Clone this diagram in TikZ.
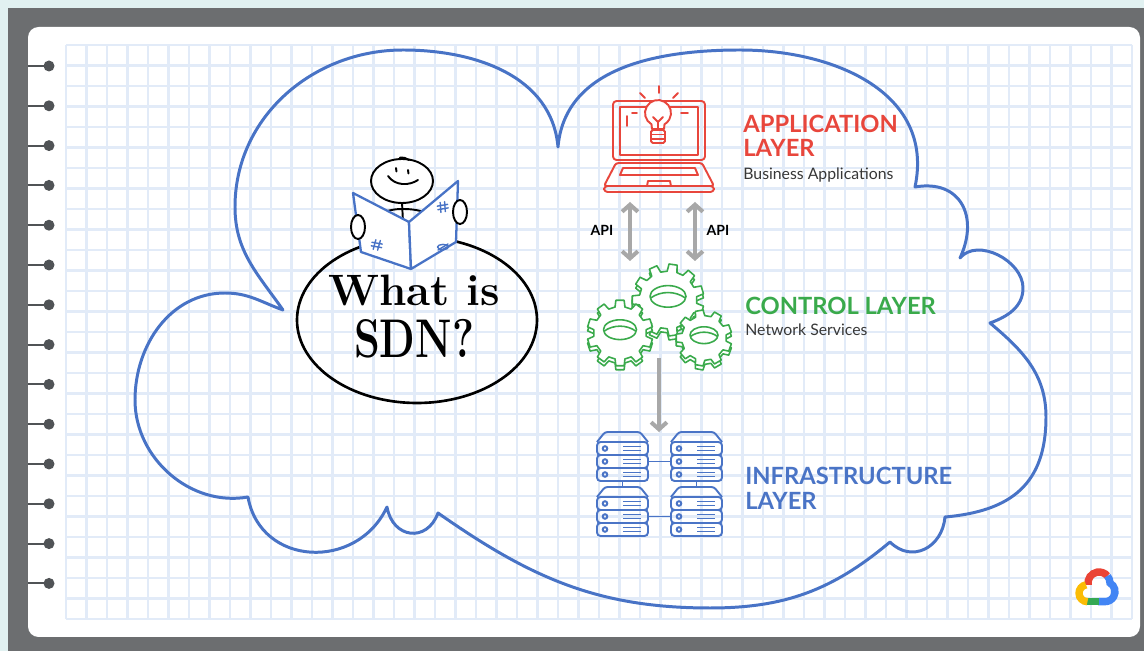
\documentclass[tikz,border=0pt]{standalone}
\usepackage{fontspec}
\newfontfamily\labelfont{Lato}
\usetikzlibrary{arrows.meta}

\definecolor{bgc}{RGB}{225,241,241}
\definecolor{framec}{RGB}{108,110,112}
\definecolor{gridc}{RGB}{226,235,248}
\definecolor{ringc}{RGB}{80,83,86}
\definecolor{cloudc}{RGB}{72,115,198}
\definecolor{appc}{RGB}{232,70,60}
\definecolor{ctlc}{RGB}{58,170,75}
\definecolor{infc}{RGB}{74,116,198}
\definecolor{arrowc}{RGB}{168,168,168}
\definecolor{textc}{RGB}{55,55,55}
\definecolor{gred}{RGB}{234,67,53}
\definecolor{gblue}{RGB}{66,133,244}
\definecolor{ggreen}{RGB}{52,168,83}
\definecolor{gyellow}{RGB}{251,188,5}

% cog wheel: centre x, centre y, outer radius, number of teeth
\newcommand\cogwheel[4]{%
  \begin{scope}[shift={(#1,#2)}]
    \pgfmathsetmacro\cogs{360/#4}
    \pgfmathsetmacro\cogin{0.8*#3}
    \pgfmathtruncatemacro\cogn{#4-1}
    \foreach \dy in {-4,0}{
      \filldraw[cogline, shift={(0,\dy)}] ({0.2*\cogs}:\cogin)
        \foreach \t in {0,...,\cogn}{
          -- ({(\t+0.3)*\cogs}:#3) -- ({(\t+0.7)*\cogs}:#3)
          -- ({(\t+0.8)*\cogs}:\cogin) -- ({(\t+1.2)*\cogs}:\cogin)
        } -- cycle;
    }
    \draw[cogline] (0,{0.1*#3}) ellipse [x radius={0.5*#3}, y radius={0.3*#3}];
    \draw[cogline] ({-0.49*#3},{0.05*#3}) .. controls ({-0.2*#3},{0.26*#3}) and ({0.2*#3},{0.26*#3}) .. ({0.49*#3},{0.05*#3});
  \end{scope}}

% stack of three rack units with a cover: left x, top y
\newcommand\serverstack[2]{%
  \begin{scope}[shift={(#1,-#2)}]
    \draw[srvline, rounded corners=1.5pt] (0,-10) -- (8,0) -- (43,0) -- (51,-10);
    \foreach \srow in {0,1,2}{
      \draw[srvline, rounded corners=2pt] (0,{-10-13*\srow}) rectangle (51,{-23-13*\srow});
      \draw[srvline] (8,{-16.5-13*\srow}) circle (2.3);
      \draw[srvline, line width=0.8pt] (26,{-14.7-13*\srow}) -- (44,{-14.7-13*\srow})
                                       (26,{-18.3-13*\srow}) -- (44,{-18.3-13*\srow});
    }
  \end{scope}}

% small hash sign on the newspaper
\newcommand\hashmark[3]{%
  \begin{scope}[shift={(#1,#2)}, rotate=#3]
    \draw[bookline, line width=0.8pt] (-2,5) -- (-3,-5) (2.5,5) -- (1.5,-5)
      (-5.5,1.8) -- (5,1.8) (-5.5,-1.8) -- (5,-1.8);
  \end{scope}}

\begin{document}
\begin{tikzpicture}[x=0.02cm, y=0.02cm,
  gridline/.style={draw=gridc, line width=1.2pt},
  ringline/.style={draw=ringc, line width=1.2pt},
  cloudline/.style={draw=cloudc, line width=1.7pt, line join=round},
  ink/.style={draw=black, line width=1.5pt},
  thinink/.style={draw=black, line width=1.1pt, line cap=round},
  bookline/.style={draw=cloudc, line width=1.3pt, line join=round, line cap=round},
  appline/.style={draw=appc, line width=1.1pt, line join=round, line cap=round},
  cogline/.style={draw=ctlc, line width=0.9pt, fill=white, line join=round},
  srvline/.style={draw=infc, line width=1.1pt},
  apiarrow/.style={draw=arrowc, line width=2.3pt, >={Straight Barb[length=4pt,width=9pt]}, <->},
  flowarrow/.style={draw=arrowc, line width=2.3pt, >={Straight Barb[length=4pt,width=9pt]}, ->},
  sdn/.style={font=\bfseries, inner sep=0pt, anchor=base},
  layertitle/.style={font=\labelfont\bfseries\fontsize{13.5}{16}\selectfont, inner sep=0pt, anchor=base west},
  layersub/.style={font=\labelfont\fontsize{9}{11}\selectfont, text=textc, inner sep=0pt, anchor=base west},
  apilabel/.style={font=\labelfont\bfseries\fontsize{8}{10}\selectfont, text=black, inner sep=0pt},
  logo/.style={line width=4.2pt}
]
\useasboundingbox (0,0) rectangle (1144,-651);

% notebook frame and page
\fill[bgc] (0,0) rectangle (1144,-651);
\fill[framec] (8,-8) rectangle (1144,-651);
\fill[white, rounded corners=6pt] (28,-27) rectangle (1140,-637);

% squared paper
\foreach \i in {0,...,52} \draw[gridline] ({66+20.5*\i},-45) -- ({66+20.5*\i},-619);
\foreach \j in {0,...,28} \draw[gridline] (66,{-45-20.5*\j}) -- (1132,{-45-20.5*\j});

% binding rings
\foreach \k in {0,...,13}{
  \draw[ringline] (28,{-66-39.8*\k}) -- (45,{-66-39.8*\k});
  \fill[ringc] (49,{-66-39.8*\k}) circle (5.5);
}

% thought cloud
\draw[cloudline] (558,-147)
  to[out=85,in=180] (740,-50)
  to[out=0,in=78,looseness=1.1] (915,-187)
  to[out=10,in=65,looseness=1.4] (960,-258)
  to[out=50,in=90] (1023,-288)
  to[out=-90,in=20] (990,-323)
  to[out=-40,in=90] (1046,-417)
  to[out=-90,in=5,looseness=1.2] (945,-517)
  to[out=-95,in=-45,looseness=1.3] (890,-542)
  to[out=-140,in=0] (710,-608)
  to[out=180,in=-35] (438,-513)
  to[out=-110,in=-80,looseness=1.6] (387,-507)
  to[out=-115,in=-80,looseness=1.3] (248,-497)
  to[out=190,in=-90] (135,-400)
  to[out=90,in=180] (225,-293)
  to[out=0,in=160] (283,-310)
  to[out=125,in=-90] (235,-207)
  to[out=90,in=180] (403,-50)
  to[out=0,in=95] (558,-147) -- cycle;

% reader with newspaper on the question bubble
\draw[ink] (417,-320) ellipse [x radius=120, y radius=83];
\draw[thinink] (402,-202) -- (403,-222);
\draw[thinink] (376,-215) to[out=20,in=180] (402,-209) to[out=0,in=160] (430,-214);
\draw[thinink, fill=white] (402,-181) ellipse [x radius=31, y radius=22];
\draw[thinink] (388,-176) .. controls (395,-186) and (409,-186) .. (418,-180);
\draw[thinink] (396,-168) -- (396.5,-171.5);
\draw[thinink] (408,-170) -- (408.5,-173.5);
\draw[thinink] (400,-157.5) to[out=10,in=150] (409,-160);
\filldraw[bookline, fill=white] (353,-193) -- (409,-222) -- (411,-269) -- (361,-252) -- cycle;
\filldraw[bookline, fill=white] (409,-222) -- (458,-181) -- (456,-242) -- (411,-269) -- cycle;
\hashmark{377}{-245}{-10}
\hashmark{443}{-207}{10}
\draw[bookline, line width=0.8pt] (443,-247) ellipse [x radius=5.5, y radius=2.6];
\draw[bookline, line width=0.8pt] (438,-250) -- (448,-244);
\draw[thinink, fill=white] (358,-227) ellipse [x radius=7, y radius=12];
\draw[thinink, fill=white] (460,-212) ellipse [x radius=7, y radius=12];
\node[sdn, font=\bfseries\fontsize{25}{30}\selectfont] (whatis) at (414,-306) {What is};
\node[sdn, font=\bfseries\fontsize{31}{36}\selectfont] (sdnq) at (414,-358) {\scalebox{0.76}[1]{SDN?}};

% application layer: laptop with light bulb
\draw[appline, rounded corners=2pt] (613,-101) rectangle (705,-160);
\draw[appline] (620,-107) rectangle (698,-155);
\draw[appline, rounded corners=1.5pt] (616,-163) -- (702,-163) -- (714,-186) -- (604,-186) -- cycle;
\draw[appline, rounded corners=2pt] (604,-186) rectangle (714,-192);
\draw[appline] (623,-168) -- (695,-168) -- (698,-175) -- (620,-175) -- cycle;
\draw[appline] (647,-186) -- (648,-181) -- (670,-181) -- (671,-186);
\draw[appline] (627,-116) -- (627,-126) (632,-113) -- (637,-113) (681,-113) -- (688,-113);
\filldraw[appline, fill=white] (652,-129) -- (651.5,-124.3) arc[start angle=240, end angle=-60, radius=13] -- (664,-129) -- cycle;
\draw[appline, rounded corners=1pt] (651,-130) rectangle (665,-143);
\draw[appline] (651,-134.5) -- (665,-134.5) (651,-138.8) -- (665,-138.8);
\draw[appline] (653,-117) -- (658,-122) -- (663,-117) (658,-122) -- (658,-129);
\draw[appline] (659,-86) -- (659,-93) (640,-93) -- (645,-98) (678,-93) -- (673,-98);

\node[layertitle, text=appc] (apptitle) at (743,-133) {APPLICATION};
\node[layertitle, text=appc] (applayer) at (743,-157) {LAYER};
\node[layersub] (appsub) at (743,-180) {Business Applications};

% API links between application and control layers
\coordinate (apiLtop) at (630,-202);
\coordinate (apiLbot) at (630,-261);
\coordinate (apiRtop) at (695,-202);
\coordinate (apiRbot) at (695,-261);
\draw[apiarrow] (apiLtop) -- (apiLbot);
\draw[apiarrow] (apiRtop) -- (apiRbot);
\node[apilabel] (apiL) at (602,-230) {API};
\node[apilabel] (apiR) at (718,-230) {API};

% control layer: cog wheels
\cogwheel{668}{-300}{36}{11}
\cogwheel{620}{-333}{33}{10}
\cogwheel{704}{-338}{28}{9}
\node[layertitle, text=ctlc] (ctltitle) at (745,-315) {CONTROL LAYER};
\node[layersub] (ctlsub) at (745,-336) {Network Services};

% control to infrastructure
\coordinate (ctlout) at (659,-358);
\coordinate (infin) at (659,-432);
\draw[flowarrow] (ctlout) -- (infin);

% infrastructure layer: four linked server stacks
\serverstack{597}{432}
\serverstack{671}{432}
\serverstack{597}{487}
\serverstack{671}{487}
\coordinate (s1r) at (648,-461.5);
\coordinate (s2l) at (671,-461.5);
\coordinate (s3r) at (648,-516.5);
\coordinate (s4l) at (671,-516.5);
\coordinate (s1b) at (622.5,-481);
\coordinate (s3t) at (622.5,-487);
\coordinate (s2b) at (696.5,-481);
\coordinate (s4t) at (696.5,-487);
\draw[srvline] (s1r) -- (s2l);
\draw[srvline] (s3r) -- (s4l);
\draw[srvline] (s1b) -- (s3t);
\draw[srvline] (s2b) -- (s4t);
\node[layertitle, text=infc] (inftitle) at (745,-485) {INFRASTRUCTURE};
\node[layertitle, text=infc] (inflayer) at (745,-510) {LAYER};

% cloud logo
\draw[logo, draw=gred] (1099,-583) ++(190:11) arc[start angle=190, end angle=40, radius=11];
\draw[logo, draw=gblue] (1099,-583) ++(40:11) arc[start angle=40, end angle=0, radius=11]
  arc[start angle=60, end angle=-90, radius=10] -- (1098,-601.7);
\draw[logo, draw=ggreen] (1098.5,-601.7) -- (1087,-601.7);
\draw[logo, draw=gyellow] (1087.5,-601.7) arc[start angle=270, end angle=100, radius=8.5];
\end{tikzpicture}
\end{document}
